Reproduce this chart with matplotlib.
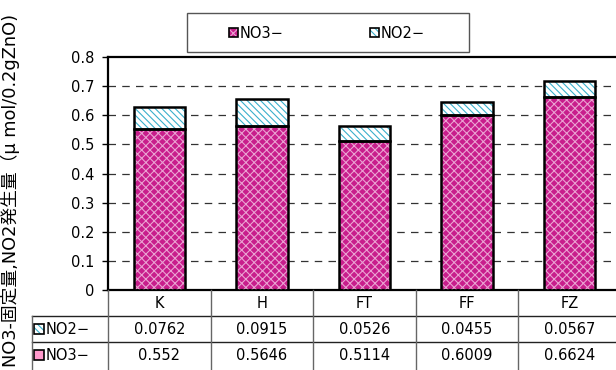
import matplotlib
matplotlib.use('Agg')
import matplotlib.pyplot as plt
from matplotlib.lines import Line2D
from matplotlib.patches import Rectangle
import numpy as np

plt.rcParams['font.family'] = ['DejaVu Sans', 'Noto Sans CJK JP']
plt.rcParams['hatch.linewidth'] = 0.8

# データ
categories = ['K', 'H', 'FT', 'FF', 'FZ']
no3 = [0.552, 0.5646, 0.5114, 0.6009, 0.6624]
no2 = [0.0762, 0.0915, 0.0526, 0.0455, 0.0567]
no3_label = 'NO3−'
no2_label = 'NO2−'
y_ticks = [0, 0.1, 0.2, 0.3, 0.4, 0.5, 0.6, 0.7, 0.8]
y_label = 'NO3-固定量,NO2発生量（μ mol/0.2gZnO)'

W, H = 616, 370
fs = 10.5
fig = plt.figure(figsize=(W / 100, H / 100), dpi=100)

def fx(x):
    return x / W

def fy(y):
    return 1 - y / H

# プロット領域（右端は図の外にはみ出す）
left, right, top, bottom = 108, 621, 57, 290
ax = fig.add_axes([fx(left), fy(bottom), fx(right - left), fy(top) - fy(bottom)])

x = np.arange(len(categories))
bw = 0.5
magenta = '#c81e8c'
dots = '#eaa2d2'
cyan = '#3ab0cc'
no3_hatch = 'xxxx'
no2_hatch = '\\\\\\\\\\'

# NO3- 部分：下地＋模様＋枠
ax.bar(x, no3, bw, color=magenta, linewidth=0, zorder=2)
ax.bar(x, no3, bw, color='none', edgecolor=dots, hatch=no3_hatch, linewidth=0, zorder=3)
ax.bar(x, no3, bw, color='none', edgecolor='black', linewidth=1.8, zorder=4)
# NO2- 部分
ax.bar(x, no2, bw, bottom=no3, color='white', linewidth=0, zorder=2)
ax.bar(x, no2, bw, bottom=no3, color='none', edgecolor=cyan, hatch=no2_hatch, linewidth=0, zorder=3)
ax.bar(x, no2, bw, bottom=no3, color='none', edgecolor='black', linewidth=1.8, zorder=4)

ax.set_xlim(-0.5, len(categories) - 0.5)
ax.set_ylim(0, 0.8)
ax.set_yticks(y_ticks)
ax.set_yticklabels(['0' if t == 0 else f'{t:.1f}' for t in y_ticks], fontsize=fs)
ax.set_xticks([])
ax.tick_params(axis='y', length=4, width=1, pad=6)
for t in y_ticks[1:-1]:
    ax.axhline(t, color='#333333', linestyle=(0, (6, 5)), linewidth=0.9, zorder=1)
for s in ['left', 'top', 'bottom']:
    ax.spines[s].set_linewidth(1.6)
ax.spines['right'].set_visible(False)

# 凡例
lx0, ly0, lx1, ly1 = 187, 13, 469, 52
fig.add_artist(Rectangle((fx(lx0), fy(ly1)), fx(lx1 - lx0), fy(ly0) - fy(ly1),
                         facecolor='white', edgecolor='#555555', linewidth=1.0,
                         transform=fig.transFigure))

def key(xp, yp, face, hatch_color, hatch, size=9):
    box = dict(xy=(fx(xp), fy(yp + size)), width=fx(size), height=fy(yp) - fy(yp + size),
               transform=fig.transFigure)
    fig.add_artist(Rectangle(facecolor=face, edgecolor='none', **box))
    if hatch:
        fig.add_artist(Rectangle(facecolor='none', edgecolor=hatch_color, hatch=hatch,
                                 linewidth=0, **box))
    fig.add_artist(Rectangle(facecolor='none', edgecolor='black', linewidth=1.2, **box))

key(229, 28, magenta, dots, no3_hatch)
fig.text(fx(240), fy(33), no3_label, fontsize=fs, va='center', ha='left')
key(370, 28, 'white', cyan, no2_hatch)
fig.text(fx(381), fy(33), no2_label, fontsize=fs, va='center', ha='left')

# データテーブル
row_top = [290, 316, 342]
row_bot = [316, 342, 372]
centers = [ax.transData.transform((i, 0))[0] for i in x]
bounds = [ax.transData.transform((i - 0.5, 0))[0] for i in range(len(categories) + 1)]
grid_c = '#666666'
tl = 32

def hline(y, x0, x1, c=grid_c, lw=1.0):
    fig.add_artist(Line2D([fx(x0), fx(x1)], [fy(y), fy(y)], color=c, linewidth=lw,
                          transform=fig.transFigure))

def vline(xp, y0, y1, c=grid_c, lw=1.0):
    fig.add_artist(Line2D([fx(xp), fx(xp)], [fy(y0), fy(y1)], color=c, linewidth=lw,
                          transform=fig.transFigure))

hline(316, tl, W + 10, c='#222222')
hline(342, tl, W + 10, c='#222222')
for b in bounds:
    vline(b, 290, 372)
vline(tl, 316, 372)

for i, c in enumerate(categories):
    fig.text(fx(centers[i]), fy((row_top[0] + row_bot[0]) / 2), c, fontsize=fs, ha='center', va='center')
    fig.text(fx(centers[i]), fy((row_top[1] + row_bot[1]) / 2), f'{no2[i]}', fontsize=fs, ha='center', va='center')
    fig.text(fx(centers[i]), fy((row_top[2] + row_bot[2]) / 2 - 1), f'{no3[i]}', fontsize=fs, ha='center', va='center')

key(34, 324, 'white', cyan, no2_hatch, size=10)
fig.text(fx(46), fy(329), no2_label, fontsize=fs, va='center', ha='left')
key(34, 350, '#ff99cc', None, None, size=10)
fig.text(fx(46), fy(355), no3_label, fontsize=fs, va='center', ha='left')

# 縦軸ラベル
fig.text(fx(10), fy(14), y_label, rotation=90, fontsize=12.8, ha='center', va='top',
         family=['DejaVu Sans', 'Noto Sans CJK JP'])

fig.savefig('out.png', dpi=100)
